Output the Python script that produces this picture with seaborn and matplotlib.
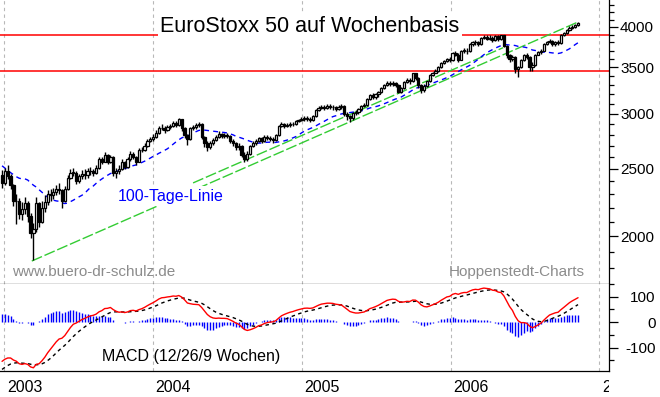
import pandas as pd
import matplotlib
matplotlib.use("Agg")
import matplotlib.pyplot as plt
import matplotlib.dates as mdates
from matplotlib.ticker import FixedLocator, NullFormatter, FuncFormatter
from matplotlib.transforms import Bbox, TransformedBbox, blended_transform_factory
import seaborn as sns

# weekly closes of 2002, only needed so the 100-day line and the MACD are warmed up
warmup_closes = [3720, 3630, 3560, 3590, 3600, 3530, 3590, 3550, 3680, 3800,
                 3790, 3770, 3780, 3700, 3640, 3690, 3580, 3540, 3520, 3640,
                 3540, 3430, 3340, 3250, 3170, 3130, 3180, 2960, 2750, 2700,
                 2780, 2790, 2850, 2860, 2710, 2600, 2560, 2390, 2300, 2220,
                 2330, 2450, 2440, 2520, 2520, 2580, 2640, 2650, 2560, 2500,
                 2450]

# weekly candles (Friday closes) from 27.12.2002
first_week = "2002-12-27"
first_open = 2450
closes = [2390, 2480, 2440, 2370, 2250, 2250, 2150, 2190, 2230, 2140,
          2020, 2050, 2230, 2100, 2200, 2240, 2300, 2290, 2320, 2340,
          2330, 2250, 2340, 2430, 2470, 2470, 2400, 2440, 2460, 2450,
          2480, 2480, 2470, 2510, 2580, 2560, 2620, 2560, 2600, 2470,
          2480, 2500, 2560, 2520, 2580, 2630, 2600, 2560, 2660, 2660,
          2700, 2740, 2760, 2780, 2820, 2860, 2860, 2840, 2870, 2880,
          2910, 2890, 2950, 2860, 2800, 2760, 2860, 2870, 2890, 2900,
          2780, 2720, 2690, 2720, 2750, 2780, 2810, 2790, 2800, 2790,
          2740, 2720, 2690, 2700, 2620, 2580, 2630, 2700, 2720, 2740,
          2770, 2740, 2780, 2770, 2760, 2750, 2800, 2880, 2900, 2880,
          2890, 2900, 2900, 2930, 2940, 2950, 2960, 2950, 2940, 2980,
          3040, 3060, 3070, 3060, 3080, 3070, 3070, 3050, 3070, 3080,
          3000, 2980, 2960, 3010, 3020, 3050, 3080, 3090, 3150, 3190,
          3170, 3200, 3230, 3270, 3300, 3320, 3310, 3320, 3300, 3230,
          3270, 3330, 3360, 3340, 3430, 3380, 3300, 3250, 3290, 3340,
          3410, 3440, 3460, 3500, 3550, 3570, 3600, 3580, 3670, 3650,
          3590, 3700, 3700, 3690, 3780, 3800, 3800, 3780, 3860, 3870,
          3850, 3860, 3830, 3880, 3840, 3890, 3760, 3640, 3600, 3620,
          3480, 3500, 3580, 3650, 3620, 3500, 3530, 3650, 3680, 3700,
          3780, 3800, 3820, 3780, 3800, 3790, 3900, 3920, 3960, 3990,
          4000, 4020, 4050]
highs = [2490, 2510, 2530, 2460, 2380, 2300, 2270, 2240, 2280, 2250,
         2160, 2090, 2280, 2240, 2250, 2290, 2330, 2340, 2350, 2370,
         2390, 2340, 2360, 2450, 2500, 2510, 2480, 2460, 2490, 2500,
         2510, 2520, 2500, 2530, 2600, 2600, 2640, 2630, 2620, 2610,
         2510, 2530, 2580, 2570, 2600, 2650, 2640, 2610, 2680, 2690,
         2720, 2760, 2780, 2810, 2840, 2880, 2900, 2880, 2890, 2900,
         2930, 2930, 2960, 2950, 2870, 2810, 2870, 2890, 2910, 2920,
         2910, 2790, 2740, 2740, 2770, 2800, 2830, 2820, 2820, 2820,
         2800, 2760, 2730, 2720, 2710, 2640, 2650, 2710, 2740, 2760,
         2780, 2780, 2800, 2800, 2790, 2780, 2810, 2890, 2920, 2910,
         2910, 2920, 2920, 2940, 2950, 2970, 2980, 2980, 2970, 2990,
         3050, 3080, 3090, 3090, 3100, 3100, 3090, 3080, 3090, 3100,
         3090, 3020, 2990, 3020, 3040, 3060, 3090, 3110, 3160, 3200,
         3210, 3220, 3240, 3280, 3310, 3340, 3340, 3340, 3330, 3310,
         3280, 3340, 3380, 3380, 3440, 3440, 3390, 3310, 3310, 3350,
         3420, 3450, 3480, 3520, 3560, 3590, 3610, 3620, 3680, 3690,
         3670, 3710, 3730, 3730, 3790, 3820, 3830, 3820, 3870, 3890,
         3890, 3890, 3880, 3890, 3890, 3900, 3900, 3770, 3660, 3650,
         3630, 3520, 3600, 3660, 3670, 3630, 3560, 3660, 3700, 3720,
         3790, 3820, 3840, 3830, 3820, 3830, 3910, 3940, 3970, 4010,
         4020, 4040, 4060]
lows = [2350, 2370, 2420, 2340, 2210, 2080, 2120, 2110, 2150, 2100,
        1990, 1850, 2030, 2060, 2090, 2170, 2220, 2250, 2260, 2290,
        2300, 2200, 2240, 2330, 2420, 2440, 2380, 2390, 2420, 2420,
        2430, 2450, 2440, 2460, 2500, 2540, 2560, 2540, 2550, 2440,
        2430, 2460, 2490, 2500, 2510, 2570, 2580, 2530, 2560, 2640,
        2650, 2690, 2730, 2740, 2770, 2810, 2840, 2820, 2830, 2850,
        2870, 2870, 2880, 2830, 2770, 2710, 2750, 2840, 2850, 2870,
        2760, 2690, 2650, 2670, 2710, 2740, 2770, 2770, 2770, 2770,
        2720, 2700, 2660, 2660, 2600, 2560, 2570, 2620, 2690, 2710,
        2730, 2720, 2730, 2750, 2740, 2720, 2740, 2790, 2870, 2860,
        2870, 2870, 2880, 2890, 2920, 2930, 2930, 2930, 2920, 2930,
        2970, 3030, 3050, 3040, 3050, 3050, 3040, 3030, 3040, 3050,
        2980, 2940, 2920, 2940, 2990, 3000, 3030, 3070, 3080, 3140,
        3150, 3150, 3170, 3220, 3260, 3290, 3290, 3290, 3280, 3210,
        3220, 3260, 3320, 3310, 3330, 3360, 3270, 3210, 3230, 3280,
        3330, 3400, 3430, 3450, 3490, 3540, 3560, 3560, 3570, 3630,
        3560, 3580, 3670, 3660, 3680, 3760, 3770, 3750, 3770, 3840,
        3830, 3830, 3810, 3820, 3820, 3830, 3740, 3610, 3560, 3570,
        3440, 3390, 3490, 3570, 3600, 3460, 3460, 3520, 3640, 3660,
        3690, 3770, 3790, 3750, 3760, 3770, 3780, 3880, 3910, 3950,
        3970, 3990, 4010]

resistance_levels = [3895, 3462]
trend_lower_dates = ["2003-03-10", "2006-11-10"]
trend_lower_values = [1843, 4067]
trend_upper_dates = ["2004-04-09", "2006-05-10"]
trend_upper_values = [2387, 3735]

price_ticks = [2000, 2500, 3000, 3500, 4000]
price_minor = [v for v in range(1800, 4400, 100) if v not in price_ticks]
macd_ticks = [-100, 0, 100]
macd_minor = [-150, -50, 50, 150]
years = [2003, 2004, 2005, 2006, 2007]

# --- data prep ---
dates = pd.date_range(first_week, periods=len(closes), freq="W-FRI")
warm_dates = pd.date_range(end=dates[0] - pd.Timedelta(days=7), periods=len(warmup_closes), freq="W-FRI")
all_close = pd.Series(warmup_closes + closes, index=warm_dates.append(dates))

ma100 = all_close.rolling(20).mean()[dates]
ema12 = all_close.ewm(span=12, adjust=False).mean()
ema26 = all_close.ewm(span=26, adjust=False).mean()
macd_all = ema12 - ema26
signal_all = macd_all.ewm(span=9, adjust=False).mean()
macd = macd_all[dates]
signal = signal_all[dates]
hist = macd - signal

df = pd.DataFrame({"close": closes, "high": highs, "low": lows}, index=dates)
df["open"] = [first_open] + closes[:-1]
up = df[df.close >= df.open]
down = df[df.close < df.open]

# --- figure ---
sns.set_style("white")
plt.rcParams["font.family"] = ["Liberation Sans", "DejaVu Sans"]

W, H = 660, 397
fig = plt.figure(figsize=(6.6, 3.97), dpi=100)
ax = fig.add_axes([0, (H - 284) / H, 609 / W, 284 / H])
axm = fig.add_axes([0, (H - 370.5) / H, 609 / W, 86.5 / H], sharex=ax)

xmin, xmax = pd.Timestamp("2002-12-22"), pd.Timestamp("2007-01-25")
year_dates = [pd.Timestamp(f"{y}-01-01") for y in years]

for a in (ax, axm):
    for yd in year_dates:
        a.axvline(yd, color="#b8b8b8", lw=0.8, ls=(0, (3, 3)), zorder=0)
    for s in ("left", "top"):
        a.spines[s].set_visible(False)
    for s in ("right", "bottom"):
        a.spines[s].set_color("black")
        a.spines[s].set_linewidth(0.9)

# price panel
ax.set_yscale("log")
ax.set_ylim(1708, 4374)
ax.set_xlim(xmin, xmax)

for lvl in resistance_levels:
    ax.axhline(lvl, color="#ff0000", lw=1.1, zorder=2)

ax.plot(pd.to_datetime(trend_lower_dates), trend_lower_values, color="#33cc33", lw=1, ls=(0, (8, 2)), zorder=2)
ax.plot(pd.to_datetime(trend_upper_dates), trend_upper_values, color="#33cc33", lw=1, ls=(0, (8, 2)), zorder=2)

sns.lineplot(x=ma100.index, y=ma100.values, ax=ax, color="#0000ff", lw=1, linestyle=(0, (3.5, 3)), zorder=3)

ax.vlines(df.index, df.low, df.high, color="black", lw=1, zorder=4)
ax.bar(up.index, (up.close - up.open).clip(lower=1), bottom=up.open, width=5.5,
       facecolor="white", edgecolor="black", lw=0.9, zorder=5)
ax.bar(down.index, down.open - down.close, bottom=down.close, width=5.5,
       facecolor="black", edgecolor="black", lw=0.9, zorder=5)

ax.yaxis.tick_right()
ax.yaxis.set_major_locator(FixedLocator(price_ticks))
ax.yaxis.set_minor_locator(FixedLocator(price_minor))
ax.yaxis.set_major_formatter(FuncFormatter(lambda v, p: f"{v:.0f}"))
ax.yaxis.set_minor_formatter(NullFormatter())
ax.tick_params(axis="y", which="major", direction="out", length=6.5, width=0.9, pad=1.5, labelsize=11, colors="black")
ax.tick_params(axis="y", which="minor", direction="out", length=3.6, width=0.9, colors="black")
ax.tick_params(axis="x", which="both", bottom=False, labelbottom=False)
ax.set_xlabel("")
ax.set_ylabel("")

txt_box = dict(facecolor="white", edgecolor="none", pad=1.5)
ax.text(310 / 609, 1 - 26 / 284, "EuroStoxx 50 auf Wochenbasis", transform=ax.transAxes,
        ha="center", va="center", fontsize=15.5, color="black", bbox=txt_box, zorder=10)
ax.text(171 / 609, 1 - 196 / 284, "100-Tage-Linie", transform=ax.transAxes,
        ha="center", va="center", fontsize=11.5, color="#0000ff", bbox=txt_box, zorder=10)
ax.text(12 / 609, 1 - 272 / 284, "www.buero-dr-schulz.de", transform=ax.transAxes,
        ha="left", va="center", fontsize=11, color="#8c8c8c", zorder=10)
ax.text(585 / 609, 1 - 272 / 284, "Hoppenstedt-Charts", transform=ax.transAxes,
        ha="right", va="center", fontsize=11, color="#8c8c8c", zorder=10)

# MACD panel
axm.vlines(hist.index, 0, hist.values, color="#0000ff", lw=1, zorder=2)
sns.lineplot(x=signal.index, y=signal.values, ax=axm, color="black", lw=1, linestyle=(0, (2.5, 2.5)), zorder=3)
sns.lineplot(x=macd.index, y=macd.values, ax=axm, color="#ff0000", lw=1, zorder=4)
axm.set_ylim(-190, 150)
axm.set_xlim(xmin, xmax)
axm.set_xlabel("")
axm.set_ylabel("")

axm.yaxis.tick_right()
axm.yaxis.set_major_locator(FixedLocator(macd_ticks))
axm.yaxis.set_minor_locator(FixedLocator(macd_minor))
axm.yaxis.set_major_formatter(FuncFormatter(lambda v, p: f"{v:.0f}"))
axm.yaxis.set_minor_formatter(NullFormatter())
axm.tick_params(axis="y", which="major", direction="out", length=6.5, width=0.9, pad=27, labelsize=11, colors="black")
axm.tick_params(axis="y", which="minor", direction="out", length=3.6, width=0.9, colors="black")
for t in axm.yaxis.get_major_ticks():
    t.label2.set_horizontalalignment("right")

axm.xaxis.set_major_locator(mdates.YearLocator())
axm.xaxis.set_minor_locator(mdates.MonthLocator())
axm.tick_params(axis="x", which="major", direction="out", length=19.5, width=0.9, labelbottom=False, colors="black")
axm.tick_params(axis="x", which="minor", direction="out", length=4.3, width=0.9, colors="black")

axm.text(102 / 609, 1 - 72 / 86.5, "MACD (12/26/9 Wochen)", transform=axm.transAxes,
         ha="left", va="center", fontsize=11.5, color="black", zorder=10)

clip = TransformedBbox(Bbox([[0, 0], [609 / W, 1]]), fig.transFigure)
trans = blended_transform_factory(axm.transData, axm.transAxes)
for y, yd in zip(years, year_dates):
    t = axm.text(yd + pd.Timedelta(days=7), -17.5 / 86.5, str(y), transform=trans,
                 ha="left", va="center", fontsize=11.5, color="black")
    t.set_clip_box(clip)
    t.set_clip_on(True)

fig.savefig("out.png", dpi=100, facecolor="white")
